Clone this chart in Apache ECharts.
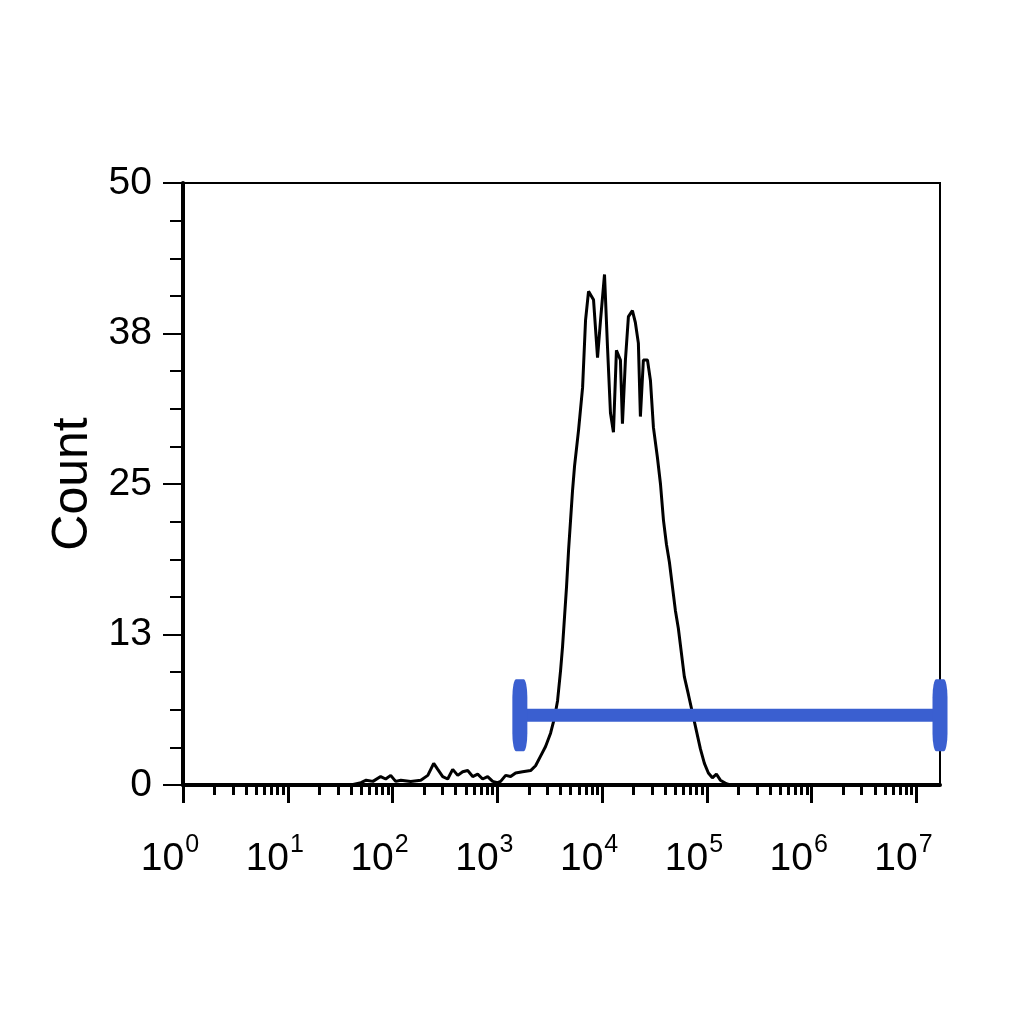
<!DOCTYPE html>
<html lang="en">
<head>
	<meta charset="UTF-8">
	<script src="https://cdn.jsdelivr.net/npm/echarts@6/dist/echarts.min.js"></script>
	<style>
		html,body{margin:0;padding:0;background:#fff;}
	</style>
</head>
<body>
<div id="histo" style="width: 1024px; height: 1024px;"></div>
<script>
  // fluorescence intensity (channel value) and event count of the histogram trace
  var intensity=[1,40,50,56,65,77,86,96,107,120,149,186,217,247,270,301,336,375,419,467,521,582,649,724,808,902,1007,
    1075,1200,1339,1494,1742,2076,2317,2586,2886,3221,3517,3757,4012,4192,4381,4578,4784,4999,5224,5459,5705,5961,
    6509,6948,7419,8281,9042,9654,10540,11253,12015,12828,13697,14955,15630,16690,17820,19457,20775,22182,23190,
    24760,27090,28920,30880,33710,36060,38490,41100,43880,46860,50030,53420,57040,60900,66660,72760,79420,86700,
    94650,103300,112800,123200,134500,153500,167600,16777216];
  var count=[0,0,0.2,0.4,0.3,0.7,0.5,0.8,0.3,0.4,0.3,0.4,0.8,1.8,1.3,0.7,0.5,1.3,0.8,1.1,1.2,0.7,0.9,0.5,0.7,0.3,0.2,
    0.3,0.8,0.7,1.0,1.1,1.2,1.6,2.4,3.2,4.3,5.6,7.0,9.5,11.5,14,16.5,19.5,22,24.5,26.5,28,29.5,
    33,38.6,41,40.3,35.5,38.6,42.4,36.4,30.9,29.3,36.1,35.3,30,35.3,38.9,39.4,38.4,36.7,30.6,
    35.3,35.3,33.6,29.7,27.2,25,22,20,18.5,16.5,14.5,13,11,9,7.5,6,4.5,3,
    1.8,1.0,0.6,0.9,0.4,0.1,0,0];
  // gate marker: from / to intensity, drawn at this count level
  var gateRange=[1640,16777216];
  var gateLevel=5.8;
  var xMaxValue=16777216;
  var decades=[0,1,2,3,4,5,6,7];

  var lg=function(v){return Math.log10(v);};
  var traceData=[];
  for(var i=0;i<intensity.length;i++){
    traceData.push([lg(intensity[i]),count[i]]);
  }
  var gateData=[[lg(gateRange[0]),gateLevel],[lg(gateRange[1]),gateLevel]];
  var minorVals=[];
  for(var d=0;d<8;d++){
    for(var k=2;k<10;k++){
      var mv=d+lg(k);
      if(mv<=lg(xMaxValue)) minorVals.push(mv);
    }
  }

  var chart=echarts.init(document.getElementById('histo'));
  var option={
    animation:false,
    backgroundColor:'#fff',
    grid:{
      left:183,
      top:183,
      right:84,
      bottom:239,
      show:true,
      borderColor:'#000',
      borderWidth:2
    },
    xAxis:[
      {
        type:'value',
        min:0,
        max:lg(xMaxValue),
        position:'bottom',
        splitLine:{show:false},
        axisLine:{show:true,lineStyle:{color:'#000',width:4}},
        axisTick:{show:true,inside:false,length:18,lineStyle:{color:'#000',width:3},customValues:decades},
        axisLabel:{
          show:true,
          customValues:decades,
          margin:48,
          padding:[0,26,0,0],
          formatter:function(v){return '{b|10}{s|'+Math.round(v)+'}';},
          rich:{
            b:{fontFamily:'Liberation Sans',fontSize:39,color:'#000',lineHeight:46,verticalAlign:'bottom'},
            s:{fontFamily:'Liberation Sans',fontSize:25,color:'#000',lineHeight:18,verticalAlign:'top',padding:[0,0,2,1]}
          }
        }
      },
      {
        type:'value',
        min:0,
        max:lg(xMaxValue),
        position:'bottom',
        splitLine:{show:false},
        axisLine:{show:false},
        axisLabel:{show:false},
        axisTick:{show:true,inside:false,length:10,lineStyle:{color:'#000',width:3},customValues:minorVals}
      }
    ],
    yAxis:{
      type:'value',
      min:0,
      max:50,
      interval:12.5,
      name:'Count',
      nameLocation:'middle',
      nameGap:70,
      nameRotate:90,
      nameTextStyle:{fontFamily:'Liberation Sans',fontSize:50,color:'#000'},
      splitLine:{show:false},
      axisLine:{show:true,lineStyle:{color:'#000',width:4}},
      axisTick:{show:true,inside:false,length:20,lineStyle:{color:'#000',width:2}},
      minorTick:{show:true,splitNumber:4,length:13,lineStyle:{color:'#000',width:2}},
      axisLabel:{
        margin:31,
        fontFamily:'Liberation Sans',
        fontSize:39,
        color:'#000',
        formatter:function(v){return String(Math.round(v));}
      }
    },
    series:[
      {
        name:'trace',
        type:'line',
        data:traceData,
        showSymbol:false,
        symbol:'none',
        lineStyle:{color:'#000',width:3},
        z:3
      },
      {
        name:'gate',
        type:'line',
        data:gateData,
        symbol:'roundRect',
        symbolSize:[15,72],
        showSymbol:true,
        itemStyle:{color:'#3a5fd0'},
        lineStyle:{color:'#3a5fd0',width:13},
        clip:false,
        z:4
      }
    ]
  };
  chart.setOption(option);
</script>
</body>
</html>
